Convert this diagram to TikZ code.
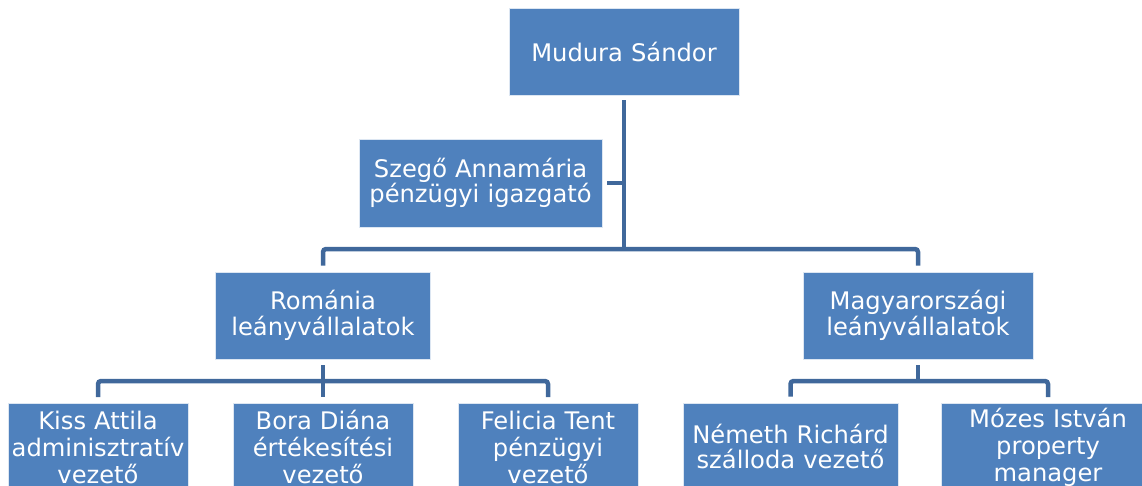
\documentclass[tikz,border=0pt]{standalone}
\usepackage{fontspec}
\setmainfont{DejaVu Sans}
\definecolor{boxblue}{RGB}{79,129,189}
\definecolor{linkblue}{RGB}{64,104,155}
\begin{document}
\begin{tikzpicture}[x=1pt,y=-1pt,
  box/.style={fill=boxblue, draw=white!80!boxblue, line width=0.8pt, text=white,
    align=center, inner sep=0pt, minimum height=87pt,
    font=\fontsize{24.2}{26}\selectfont},
  lsk/.style={font=\fontsize{24.2}{#1}\selectfont},
  conn/.style={draw=linkblue, line width=4.5pt, rounded corners=3pt}]
\useasboundingbox (0,0) rectangle (1142,485);
\clip (0,0) rectangle (1142,485);
% boxes
\node[box, minimum width=230pt, text width=226pt] (top) at (624,51.5) {Mudura Sándor};
\node[box, lsk=25pt, minimum width=243pt, text width=239pt, minimum height=88pt] (szego) at (480.5,183) {Szegő Annamária\\pénzügyi igazgató};
\node[box, lsk=26pt, minimum width=215pt, text width=211pt] (rom) at (323,315.5) {Románia\\leányvállalatok};
\node[box, lsk=26pt, minimum width=230pt, text width=226pt] (mag) at (918,315.5) {Magyarországi\\leányvállalatok};
\node[box, lsk=27pt, minimum width=180pt, text width=179pt] (kiss) at (98,447) {Kiss Attila\\adminisztratív\\vezető};
\node[box, lsk=27pt, minimum width=180pt, text width=176pt] (bora) at (323,447) {Bora Diána\\értékesítési\\vezető};
\node[box, lsk=27pt, minimum width=180pt, text width=176pt] (fel) at (548,447) {Felicia Tent\\pénzügyi\\vezető};
\node[box, lsk=25pt, minimum width=215pt, text width=211pt] (nem) at (790.5,446.5) {Németh Richárd\\szálloda vezető};
\node[box, lsk=27pt, minimum width=214pt, text width=210pt] (moz) at (1048,447) {Mózes István\\property\\manager};
% bus coordinates
\coordinate (bus1) at (624,249);
\coordinate (bus2a) at (323,381);
\coordinate (bus2b) at (918,381);
% connectors
\draw[conn] ([yshift=-5pt]top.south) -- (top.south |- bus1);
\draw[conn] ([xshift=5pt]szego.east) -- (szego.east -| top.south);
\draw[conn] ([yshift=6pt]rom.north) |- (bus1) -| ([yshift=6pt]mag.north);
\draw[conn] ([yshift=-6pt]rom.south) -- ([yshift=6pt]bora.north);
\draw[conn] ([yshift=6pt]kiss.north) |- (bus2a) -| ([yshift=6pt]fel.north);
\draw[conn] ([yshift=-6pt]mag.south) -- (mag.south |- bus2b);
\draw[conn] ([yshift=6pt]nem.north) |- (bus2b) -| ([yshift=6pt]moz.north);
\end{tikzpicture}
\end{document}
